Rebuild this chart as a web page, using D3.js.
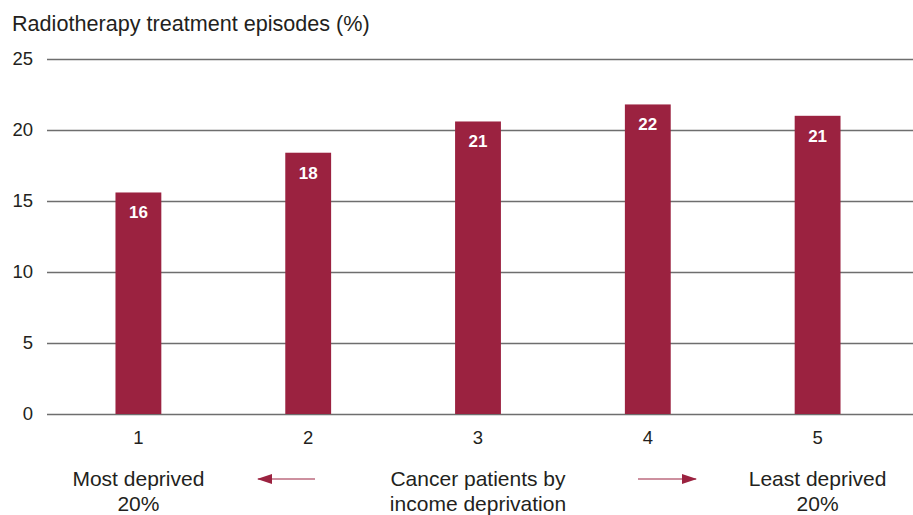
<!DOCTYPE html>
<html>
<head>
<meta charset="utf-8">
<script src="https://cdn.jsdelivr.net/npm/d3@7"></script>
<style>
  html, body { margin: 0; padding: 0; background: #fff; }
  svg { display: block; font-family: "Liberation Sans", Arial, sans-serif; }
</style>
</head>
<body>
<svg id="chart" width="913" height="515"></svg>
<script>
// Radiotherapy treatment episodes by income deprivation quintile
const quintiles = ["1", "2", "3", "4", "5"];
const episodesPct = [15.6, 18.4, 20.6, 21.8, 21.0];
const yTicks = [0, 5, 10, 15, 20, 25];
const titleText = "Radiotherapy treatment episodes (%)";
const axisTitle = ["Cancer patients by", "income deprivation"];
const leftEnd = ["Most deprived", "20%"];
const rightEnd = ["Least deprived", "20%"];

const barColor = "#9b2240";
const gridColor = "#6e6e6e";
const textColor = "#231f20";

const svg = d3.select("#chart");

const x = d3.scaleBand()
  .domain(quintiles)
  .range([53.5, 902.5])
  .paddingInner(0.73)
  .paddingOuter(0.365);

const y = d3.scaleLinear()
  .domain([0, 25])
  .range([414, 59]);

// Title
svg.append("text")
  .attr("x", 12).attr("y", 31)
  .attr("font-size", 21.6)
  .attr("fill", textColor)
  .text(titleText);

// Gridlines and y labels
const yAxis = d3.axisLeft(y)
  .tickValues(yTicks)
  .tickSize(-(913 - 47))
  .tickPadding(14)
  .tickFormat(d3.format("d"));

const gy = svg.append("g")
  .attr("transform", "translate(47,0)")
  .call(yAxis);
gy.select(".domain").remove();
gy.selectAll(".tick line")
  .attr("stroke", gridColor)
  .attr("stroke-width", 1.3);
gy.selectAll(".tick text")
  .attr("font-size", 18.5)
  .attr("font-family", "Liberation Sans, Arial, sans-serif")
  .attr("fill", textColor);

// Bars
svg.append("g")
  .selectAll("rect")
  .data(episodesPct)
  .join("rect")
  .attr("x", (d, i) => x(quintiles[i]))
  .attr("y", d => y(d))
  .attr("width", x.bandwidth())
  .attr("height", d => y(0) - y(d))
  .attr("fill", barColor);

// Value labels inside bars
svg.append("g")
  .selectAll("text")
  .data(episodesPct)
  .join("text")
  .attr("x", (d, i) => x(quintiles[i]) + x.bandwidth() / 2)
  .attr("y", d => y(d) + 26)
  .attr("text-anchor", "middle")
  .attr("font-size", 17)
  .attr("font-weight", "bold")
  .attr("fill", "#fff")
  .text(d => d3.format(".0f")(d));

// X axis labels
const xAxis = d3.axisBottom(x).tickSize(0).tickPadding(17);
const gx = svg.append("g")
  .attr("transform", "translate(0,414)")
  .call(xAxis);
gx.select(".domain").remove();
gx.selectAll(".tick text")
  .attr("font-size", 18.5)
  .attr("font-family", "Liberation Sans, Arial, sans-serif")
  .attr("fill", textColor);

// Bottom annotation text blocks
function block(lines, cx) {
  const t = svg.append("text")
    .attr("text-anchor", "middle")
    .attr("font-size", 21)
    .attr("fill", textColor);
  lines.forEach((ln, i) => {
    t.append("tspan").attr("x", cx).attr("y", 486 + i * 25).text(ln);
  });
}
const mid = q => x(q) + x.bandwidth() / 2;
block(leftEnd, mid("1"));
block(axisTitle, mid("3"));
block(rightEnd, mid("5"));

// Direction arrows
const defs = svg.append("defs");
defs.append("marker")
  .attr("id", "head")
  .attr("viewBox", "0 0 15 10")
  .attr("refX", 14).attr("refY", 5)
  .attr("markerWidth", 15).attr("markerHeight", 10)
  .attr("markerUnits", "userSpaceOnUse")
  .attr("orient", "auto")
  .append("path")
  .attr("d", "M0,0 L15,5 L0,10 Z")
  .attr("fill", barColor);

svg.append("line")
  .attr("x1", 315).attr("y1", 479).attr("x2", 258).attr("y2", 479)
  .attr("stroke", barColor).attr("stroke-width", 1.2)
  .attr("marker-end", "url(#head)");
svg.append("line")
  .attr("x1", 638).attr("y1", 479).attr("x2", 696).attr("y2", 479)
  .attr("stroke", barColor).attr("stroke-width", 1.2)
  .attr("marker-end", "url(#head)");
</script>
</body>
</html>
